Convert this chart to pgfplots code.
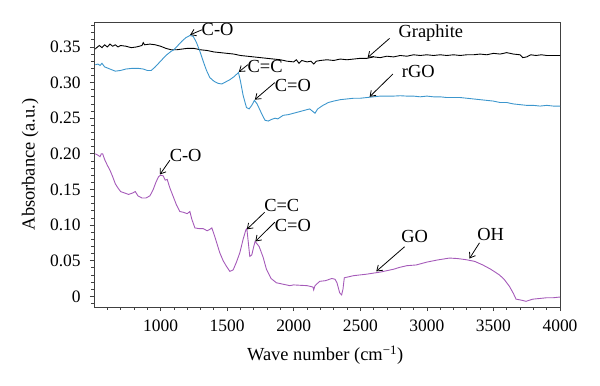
\documentclass[border=0pt]{standalone}
\usepackage{pgfplots}
\pgfplotsset{compat=1.18}
\usepackage{fontspec}
\setmainfont{Liberation Serif}
\usetikzlibrary{arrows.meta}
\definecolor{rgoblue}{RGB}{60,150,205}
\definecolor{gopurple}{RGB}{165,90,185}
\begin{document}
\fontsize{18.5}{21}\selectfont
\begin{tikzpicture}
\path[use as bounding box] (-94bp,-79bp) rectangle (506bp,307bp);
\begin{axis}[
  at={(0,0)}, anchor=south west,
  scale only axis, width=466bp, height=285bp,
  xmin=500, xmax=4000, ymin=-0.015, ymax=0.385,
  xtick={1000,1500,2000,2500,3000,3500,4000},
  xticklabels={1000,1500,2000,2500,3000,3500,4000},
  minor xtick={600,700,800,900,1100,1200,1300,1400,1600,1700,1800,1900,2100,2200,2300,2400,2600,2700,2800,2900,3100,3200,3300,3400,3600,3700,3800,3900},
  ytick={0,0.05,0.10,0.15,0.20,0.25,0.30,0.35},
  yticklabels={0,0.05,0.10,0.15,0.20,0.25,0.30,0.35},
  minor ytick={-0.01,0.01,0.02,0.03,0.04,0.06,0.07,0.08,0.09,0.11,0.12,0.13,0.14,0.16,0.17,0.18,0.19,0.21,0.22,0.23,0.24,0.26,0.27,0.28,0.29,0.31,0.32,0.33,0.34,0.36,0.37,0.38},
  tick align=outside, xtick pos=bottom, ytick pos=left,
  major tick length=4bp, minor tick length=2.5bp,
  axis line style={draw=black!75, line width=0.9pt},
  every tick/.style={black!75, line width=0.7pt},
  tick label style={font=\fontsize{17.5}{20}\selectfont},
  xlabel={Wave number (cm\textsuperscript{−1})},
  ylabel={Absorbance (a.u.)},
  xlabel style={at={(axis description cs:0.496,-0.168)}, anchor=center},
  ylabel style={at={(axis description cs:-0.137,0.5)}, anchor=center, rotate=0},
  x tick label style={yshift=-3bp},
  y tick label style={xshift=-3bp},
  clip=true,
]
\addplot[black, line width=0.9pt] coordinates {
(510,0.347)(520,0.349)(540,0.352)(560,0.349)(580,0.353)(600,0.350)(620,0.354)(640,0.351)(660,0.353)(680,0.350)(700,0.352)(740,0.351)(780,0.349)(820,0.350)(860,0.352)(870,0.356)(880,0.353)(920,0.354)(960,0.353)(1000,0.351)(1040,0.348)(1080,0.346)(1120,0.346)(1160,0.347)(1200,0.348)(1250,0.348)(1300,0.346)(1350,0.345)(1400,0.343)(1450,0.342)(1500,0.341)(1550,0.340)(1600,0.338)(1650,0.337)(1700,0.336)(1750,0.335)(1800,0.334)(1850,0.333)(1900,0.332)(1950,0.330)(2000,0.329)(2020,0.332)(2040,0.327)(2060,0.331)(2100,0.329)(2130,0.330)(2150,0.326)(2170,0.330)(2200,0.331)(2250,0.332)(2300,0.331)(2350,0.333)(2400,0.332)(2450,0.333)(2500,0.334)(2550,0.334)(2600,0.336)(2650,0.335)(2700,0.337)(2750,0.336)(2800,0.338)(2850,0.337)(2900,0.339)(2950,0.338)(3000,0.339)(3050,0.338)(3100,0.339)(3150,0.338)(3200,0.339)(3250,0.338)(3300,0.339)(3350,0.339)(3400,0.340)(3450,0.339)(3500,0.341)(3550,0.340)(3600,0.342)(3650,0.340)(3700,0.339)(3720,0.335)(3750,0.336)(3780,0.339)(3820,0.338)(3860,0.339)(3900,0.338)(3950,0.338)(4000,0.338)
};
\addplot[rgoblue, line width=0.9pt] coordinates {
(510,0.325)(530,0.326)(545,0.324)(560,0.327)(580,0.322)(620,0.319)(660,0.316)(700,0.317)(740,0.319)(790,0.320)(830,0.320)(870,0.319)(900,0.317)(930,0.317)(960,0.322)(1000,0.330)(1040,0.338)(1080,0.344)(1100,0.346)(1130,0.352)(1160,0.358)(1190,0.363)(1220,0.366)(1245,0.365)(1270,0.356)(1295,0.344)(1320,0.330)(1345,0.317)(1370,0.307)(1400,0.302)(1430,0.299)(1460,0.298)(1490,0.301)(1520,0.304)(1550,0.308)(1585,0.314)(1600,0.302)(1620,0.282)(1645,0.265)(1665,0.263)(1685,0.268)(1705,0.275)(1725,0.270)(1745,0.262)(1765,0.254)(1785,0.247)(1810,0.246)(1830,0.248)(1860,0.250)(1880,0.249)(1920,0.254)(1960,0.255)(2000,0.257)(2040,0.259)(2080,0.261)(2120,0.263)(2140,0.260)(2160,0.257)(2180,0.263)(2220,0.268)(2260,0.272)(2300,0.274)(2350,0.276)(2400,0.277)(2450,0.278)(2500,0.278)(2550,0.279)(2600,0.280)(2650,0.281)(2700,0.281)(2750,0.281)(2800,0.2815)(2850,0.281)(2900,0.281)(2950,0.280)(3000,0.281)(3050,0.280)(3100,0.280)(3150,0.279)(3200,0.279)(3250,0.279)(3300,0.278)(3350,0.277)(3400,0.276)(3450,0.275)(3500,0.274)(3550,0.272)(3600,0.272)(3650,0.270)(3700,0.269)(3750,0.268)(3800,0.268)(3850,0.267)(3900,0.268)(3950,0.267)(4000,0.267)
};
\addplot[gopurple, line width=0.9pt] coordinates {
(510,0.200)(530,0.198)(545,0.196)(555,0.200)(565,0.200)(580,0.192)(600,0.184)(620,0.177)(640,0.168)(660,0.158)(680,0.152)(700,0.147)(730,0.145)(760,0.143)(790,0.145)(810,0.147)(830,0.141)(860,0.138)(890,0.138)(920,0.141)(945,0.150)(965,0.160)(985,0.168)(1000,0.170)(1020,0.169)(1035,0.163)(1050,0.164)(1070,0.152)(1095,0.140)(1120,0.128)(1145,0.119)(1170,0.118)(1200,0.116)(1220,0.119)(1235,0.108)(1258,0.096)(1290,0.095)(1320,0.095)(1350,0.092)(1370,0.094)(1385,0.096)(1407,0.084)(1430,0.070)(1445,0.061)(1470,0.050)(1495,0.042)(1520,0.035)(1545,0.037)(1570,0.048)(1595,0.061)(1620,0.080)(1640,0.093)(1648,0.095)(1670,0.056)(1685,0.058)(1700,0.070)(1710,0.077)(1740,0.070)(1770,0.055)(1795,0.038)(1830,0.025)(1870,0.019)(1920,0.017)(1970,0.015)(2000,0.016)(2045,0.0155)(2100,0.015)(2145,0.013)(2150,0.009)(2160,0.015)(2195,0.021)(2240,0.022)(2285,0.025)(2310,0.024)(2325,0.019)(2345,0.005)(2360,0.002)(2370,0.010)(2380,0.026)(2450,0.029)(2545,0.031)(2650,0.034)(2750,0.038)(2795,0.0406)(2850,0.043)(2920,0.044)(3000,0.048)(3080,0.051)(3170,0.0537)(3230,0.053)(3295,0.0514)(3360,0.049)(3420,0.044)(3480,0.038)(3545,0.030)(3580,0.024)(3620,0.014)(3650,0.004)(3670,-0.004)(3700,-0.005)(3745,-0.007)(3795,-0.004)(3850,-0.003)(3900,-0.002)(3950,-0.002)(4000,-0.001)
};
% annotations
\tikzset{ann/.style={-{Straight Barb[length=5bp,width=7bp]}, line width=0.8pt}}
\draw[ann] (axis cs:2720,0.362) -- (axis cs:2555,0.335);
\node[anchor=west] at (axis cs:2740,0.369) {Graphite};
\draw[ann] (axis cs:2745,0.312) -- (axis cs:2570,0.280);
\node[anchor=west] at (axis cs:2765,0.315) {rGO};
\draw[ann] (axis cs:1310,0.374) -- (axis cs:1222,0.367);
\node[anchor=west, inner sep=1bp] at (axis cs:1300,0.375) {C-O};
\draw[ann] (axis cs:1655,0.325) -- (axis cs:1588,0.315);
\node[anchor=west, inner sep=1bp] at (axis cs:1645,0.323) {C=C};
\draw[ann] (axis cs:1858,0.300) -- (axis cs:1708,0.276);
\node[anchor=west, inner sep=1bp] at (axis cs:1850,0.296) {C=O};
\draw[ann] (axis cs:1070,0.191) -- (axis cs:995,0.171);
\node[anchor=west, inner sep=1bp] at (axis cs:1060,0.198) {C-O};
\draw[ann] (axis cs:1782,0.118) -- (axis cs:1648,0.094);
\node[anchor=west, inner sep=1bp] at (axis cs:1770,0.127) {C=C};
\draw[ann] (axis cs:1858,0.104) -- (axis cs:1712,0.077);
\node[anchor=west, inner sep=1bp] at (axis cs:1850,0.099) {C=O};
\draw[ann] (axis cs:2833,0.0696) -- (axis cs:2620,0.0350);
\node[anchor=west, inner sep=1bp] at (axis cs:2800,0.0836) {GO};
\draw[ann] (axis cs:3395,0.075) -- (axis cs:3320,0.053);
\node[anchor=west, inner sep=1bp] at (axis cs:3370,0.0864) {OH};
\end{axis}
\end{tikzpicture}
\end{document}
